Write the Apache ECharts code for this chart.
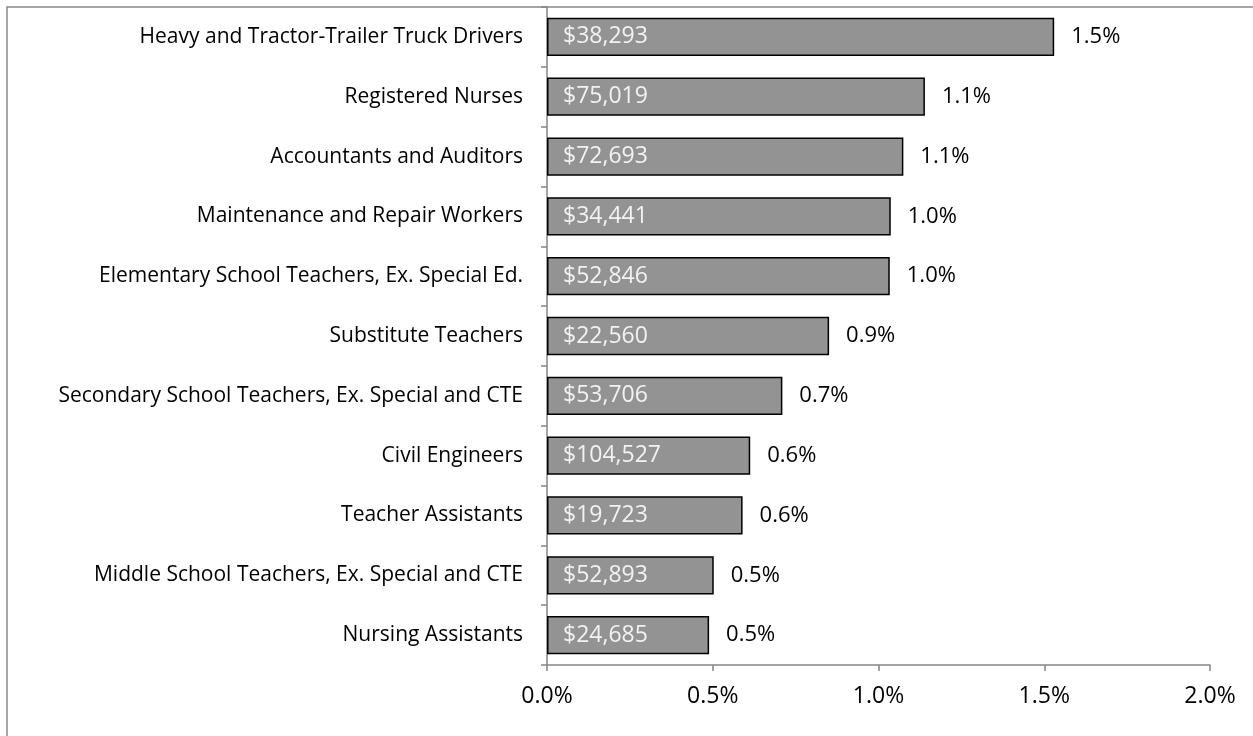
<!DOCTYPE html>
<html>
<head>
<meta charset="utf-8">
<script src="https://cdn.jsdelivr.net/npm/echarts@6/dist/echarts.min.js"></script>
<style>
  html, body { margin: 0; padding: 0; background: #fff; }
  #chart { width: 1253px; height: 736px; }
</style>
</head>
<body>
<div id="chart"></div>
<script>
// occupations, top to bottom as shown
var occupations = [
  'Heavy and Tractor-Trailer Truck Drivers',
  'Registered Nurses',
  'Accountants and Auditors',
  'Maintenance and Repair Workers',
  'Elementary School Teachers, Ex. Special Ed.',
  'Substitute Teachers',
  'Secondary School Teachers, Ex. Special and CTE',
  'Civil Engineers',
  'Teacher Assistants',
  'Middle School Teachers, Ex. Special and CTE',
  'Nursing Assistants'
];
// share of employment (%)
var shares = [1.53, 1.14, 1.075, 1.037, 1.034, 0.851, 0.71, 0.613, 0.59, 0.503, 0.489];
var shareLabels = ['1.5%', '1.1%', '1.1%', '1.0%', '1.0%', '0.9%', '0.7%', '0.6%', '0.6%', '0.5%', '0.5%'];
var wages = ['$38,293', '$75,019', '$72,693', '$34,441', '$52,846', '$22,560',
  '$53,706', '$104,527', '$19,723', '$52,893', '$24,685'];
var xTicks = [0, 0.5, 1.0, 1.5, 2.0];

var font = '"Open Sans", "Noto Sans", sans-serif';
var chart = echarts.init(document.getElementById('chart'));

var option = {
  animation: false,
  grid: { left: 547, right: 43, top: 7, bottom: 71, containLabel: false },
  graphic: [{
    type: 'rect',
    shape: { x: 7, y: 7, width: 1270, height: 760 },
    style: { fill: 'none', stroke: '#888', lineWidth: 1.5 },
    z: -1
  }],
  xAxis: {
    type: 'value',
    min: xTicks[0],
    max: xTicks[xTicks.length - 1],
    interval: 0.5,
    splitLine: { show: false },
    axisLine: { show: true, lineStyle: { color: '#868686', width: 1.5 } },
    axisTick: { show: true, length: 6, lineStyle: { color: '#868686', width: 1.5 } },
    axisLabel: {
      color: '#000', fontSize: 23, fontFamily: font, margin: 20,
      formatter: function (v) { return v.toFixed(1) + '%'; }
    }
  },
  yAxis: {
    type: 'category',
    inverse: true,
    data: occupations,
    axisLine: { show: true, lineStyle: { color: '#868686', width: 1.5 } },
    axisTick: { show: true, length: 6, lineStyle: { color: '#868686', width: 1.5 } },
    axisLabel: { color: '#000', fontSize: 21, fontFamily: font, margin: 24 }
  },
  series: [{
    type: 'bar',
    data: shares,
    barCategoryGap: '36%',
    itemStyle: { color: '#939393', borderColor: '#000', borderWidth: 1.5 },
    label: {
      show: true,
      position: 'insideLeft',
      distance: 16,
      color: '#f2f2f2',
      fontSize: 23,
      fontFamily: font,
      formatter: function (p) { return wages[p.dataIndex]; }
    }
  }, {
    type: 'bar',
    data: shares,
    barGap: '-100%',
    barCategoryGap: '36%',
    itemStyle: { color: 'rgba(0,0,0,0)', borderWidth: 0 },
    label: {
      show: true,
      position: 'right',
      distance: 17,
      color: '#000',
      fontSize: 22,
      fontFamily: font,
      formatter: function (p) { return shareLabels[p.dataIndex]; }
    },
    silent: true
  }]
};

chart.setOption(option);
</script>
</body>
</html>
